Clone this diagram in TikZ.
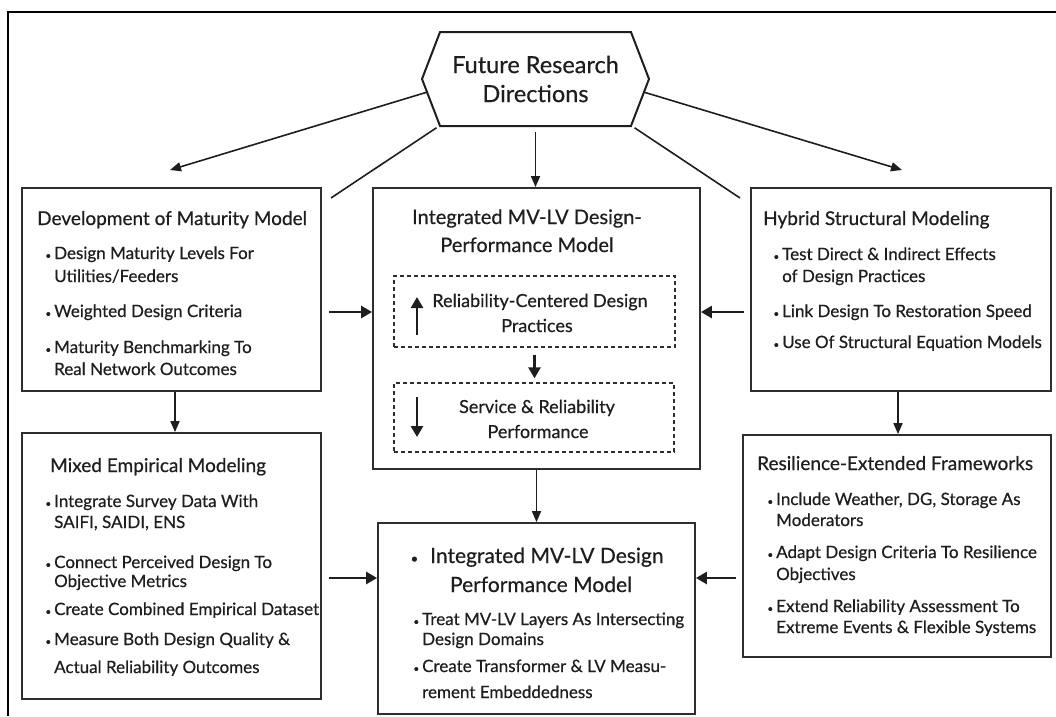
\documentclass[tikz,border=0pt]{standalone}
\usepackage{fontspec}
\setmainfont{Lato}[FakeBold=0.5]
\usetikzlibrary{arrows.meta,shapes.symbols}
\definecolor{ink}{HTML}{1E1E1E}
\definecolor{boxgray}{HTML}{2E2E2E}
\newcommand\itemdot{\llap{\fontsize{10}{10}\selectfont\textbullet\hspace{3pt}}}
\begin{document}
\begin{tikzpicture}[x=1pt,y=-1pt,
  box/.style={draw=boxgray, line width=1.8pt, inner sep=0pt, fill=white},
  dbox/.style={draw=boxgray, line width=1.3pt, dash pattern=on 4pt off 3pt, inner sep=0pt},
  ttl/.style={anchor=base west, inner sep=0pt, text=ink, font=\fontsize{19}{22}\selectfont},
  ctr/.style={anchor=base, inner sep=0pt, text=ink},
  itm/.style={anchor=base west, inner sep=0pt, text=ink, font=\fontsize{17}{20}\selectfont},
  thin arrow/.style={draw=ink, line width=1.6pt, -{Triangle[length=11pt,width=9pt]}},
  thick arrow/.style={draw=ink, line width=2.6pt, -{Triangle[length=11pt,width=12pt]}},
  plain line/.style={draw=ink, line width=1.6pt},
]
\useasboundingbox (0,0) rectangle (1056,716);

% outer frame (open to the right and bottom)
\draw[line width=2.8pt, draw=black] (8,716) -- (8,12) -- (1056,12);

% central hexagon
\node[signal, signal to=west and east, signal pointer angle=138, draw=ink,
      line width=2pt, minimum width=227pt, minimum height=94pt, inner sep=0pt,
      align=center, text=ink, font=\fontsize{23.5}{29}\selectfont]
      (hex) at (535.5,79) {Future Research\\Directions};

% boxes
\node[box, minimum width=299pt, minimum height=203pt] (dev) at (171.5,289.5) {};
\node[box, minimum width=327pt, minimum height=281pt] (imp) at (536.5,328.5) {};
\node[box, minimum width=300pt, minimum height=203pt] (hyb) at (901,289.5) {};
\node[box, minimum width=299pt, minimum height=266pt] (mix) at (171.5,566) {};
\node[box, minimum width=317pt, minimum height=191pt] (bot) at (536.5,618.5) {};
\node[box, minimum width=308pt, minimum height=222pt] (res) at (897,546) {};
\node[dbox, minimum width=281pt, minimum height=71pt] (d1) at (534.5,311.5) {};
\node[dbox, minimum width=280pt, minimum height=69pt] (d2) at (534,417.5) {};

% Development of Maturity Model
\node[ttl] (devT) at (37,225) {Development of Maturity Model};
\node[itm] (dev1) at (54,259) {\itemdot Design Maturity Levels For};
\node[itm] (dev1b) at (54,282) {Utilities/Feeders};
\node[itm] (dev2) at (54,317) {\itemdot Weighted Design Criteria};
\node[itm] (dev3) at (54,353) {\itemdot Maturity Benchmarking To};
\node[itm] (dev3b) at (54,375) {Real Network Outcomes};

% Integrated MV-LV Design-Performance Model
\node[ctr, font=\fontsize{20}{22}\selectfont] (impT1) at (527,224) {Integrated MV-LV Design-};
\node[ctr, font=\fontsize{20}{22}\selectfont] (impT2) at (527,252) {Performance Model};
\node[ctr, font=\fontsize{18}{20}\selectfont] (d1a) at (540,307) {Reliability-Centered Design};
\node[ctr, font=\fontsize{18}{20}\selectfont] (d1b) at (537,332) {Practices};
\node[ctr, font=\fontsize{18}{20}\selectfont] (d2a) at (537,413) {Service \& Reliability};
\node[ctr, font=\fontsize{18}{20}\selectfont] (d2b) at (538,438) {Performance};
\coordinate (upA) at (417,335);
\coordinate (upB) at (417,297);
\coordinate (dnA) at (417,397);
\coordinate (dnB) at (417,437);
\draw[thick arrow] (upA) -- (upB);
\draw[thick arrow] (dnA) -- (dnB);
\draw[thick arrow, shorten <=7pt, shorten >=4pt] (d1.south) -- (d1.south |- d2.north);

% Hybrid Structural Modeling
\node[ttl] (hybT) at (763,225) {Hybrid Structural Modeling};
\node[itm] (hyb1) at (782,260) {\itemdot Test Direct \& Indirect Effects};
\node[itm] (hyb1b) at (782,282) {of Design Practices};
\node[itm] (hyb2) at (782,317) {\itemdot Link Design To Restoration Speed};
\node[itm] (hyb3) at (782,348) {\itemdot Use Of Structural Equation Models};

% Mixed Empirical Modeling
\node[ttl] (mixT) at (50,472) {Mixed Empirical Modeling};
\node[itm] (mix1) at (54,507) {\itemdot Integrate Survey Data With};
\node[itm] (mix1b) at (54,528) {SAIFI, SAIDI, ENS};
\node[itm] (mix2) at (54,568) {\itemdot Connect Perceived Design To};
\node[itm] (mix2b) at (54,587) {Objective Metrics};
\node[itm] (mix3) at (54,615) {\itemdot Create Combined Empirical Dataset};
\node[itm] (mix4) at (54,645) {\itemdot Measure Both Design Quality \&};
\node[itm] (mix4b) at (54,673) {Actual Reliability Outcomes};

% Integrated MV-LV Design Performance Model
\node[anchor=base west, inner sep=0pt, text=ink, font=\fontsize{21}{24}\selectfont]
     (botT1) at (430,563) {\llap{\fontsize{13}{13}\selectfont\textbullet\hspace{12pt}}Integrated MV-LV Design};
\node[ctr, font=\fontsize{21}{24}\selectfont] (botT2) at (541,592) {Performance Model};
\node[itm] (bot1) at (422,625) {\itemdot Treat MV-LV Layers As Intersecting};
\node[itm] (bot1b) at (422,645) {Design Domains};
\node[itm] (bot2) at (422,672) {\itemdot Create Transformer \& LV Measu-};
\node[itm] (bot2b) at (422,698) {rement Embeddedness};

% Resilience-Extended Frameworks
\node[ttl] (resT) at (757,470) {Resilience-Extended Frameworks};
\node[itm] (res1) at (776,505) {\itemdot Include Weather, DG, Storage As};
\node[itm] (res1b) at (776,526) {Moderators};
\node[itm] (res2) at (776,558) {\itemdot Adapt Design Criteria To Resilience};
\node[itm] (res2b) at (776,580) {Objectives};
\node[itm] (res3) at (776,612) {\itemdot Extend Reliability Assessment To};
\node[itm] (res3b) at (776,633) {Extreme Events \& Flexible Systems};

% connectors from the hexagon
\coordinate (tipL) at (170,170);
\coordinate (tipR) at (902,170);
\coordinate (endL) at (331,198);
\coordinate (endR) at (740,198);
\draw[thin arrow] (hex.187) -- (tipL);
\draw[thin arrow] (hex.-7) -- (tipR);
\draw[thin arrow, shorten <=5pt] (hex.south) -- (hex.south |- imp.north);
\draw[plain line, shorten <=3pt] (hex.206) -- (endL);
\draw[plain line, shorten <=3pt] (hex.-26) -- (endR);

% connectors between boxes
\coordinate (rowA) at (0,312);
\coordinate (rowB) at (0,578);
\coordinate (colL) at (175,0);
\coordinate (colR) at (898,0);
\draw[thick arrow, shorten <=7pt] (dev.east |- rowA) -- (imp.west |- rowA);
\draw[thick arrow, shorten <=6pt] (hyb.west |- rowA) -- (imp.east |- rowA);
\draw[thick arrow, shorten <=7pt] (mix.east |- rowB) -- (bot.west |- rowB);
\draw[thick arrow, shorten <=6pt] (res.west |- rowB) -- (bot.east |- rowB);
\draw[thin arrow] (dev.south -| colL) -- (mix.north -| colL);
\draw[thin arrow] (hyb.south -| colR) -- (res.north -| colR);
\draw[thin arrow] (imp.south) -- (bot.north);
\end{tikzpicture}
\end{document}
